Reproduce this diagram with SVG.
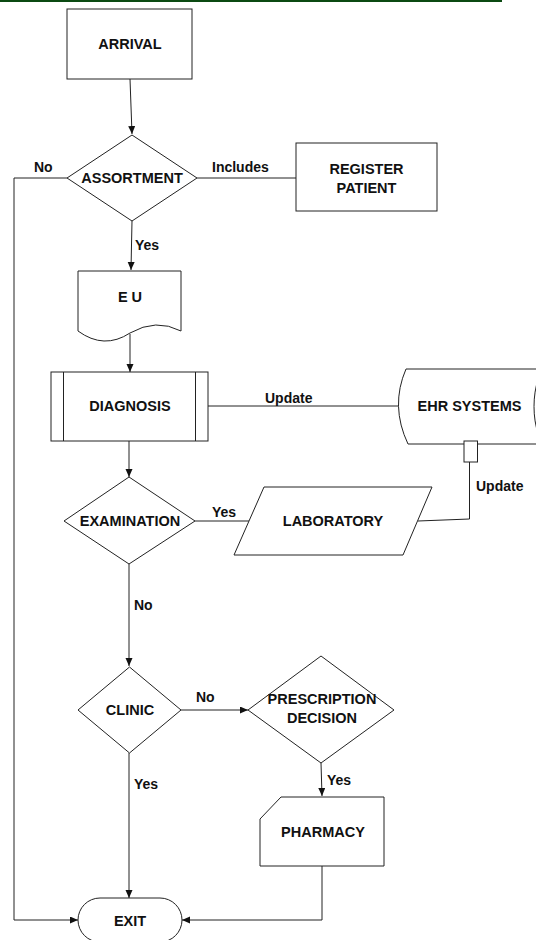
<svg xmlns="http://www.w3.org/2000/svg" width="536" height="940" viewBox="0 0 536 940">
  <style>
    .shape { fill: #ffffff; stroke: #222222; stroke-width: 1; }
    .line { fill: none; stroke: #222222; stroke-width: 1; }
    .node-text { font-family: "Liberation Sans", Arial, sans-serif; font-weight: bold; font-size: 14.5px; fill: #111111; text-anchor: middle; }
    .label { font-family: "Liberation Sans", Arial, sans-serif; font-weight: bold; font-size: 14px; fill: #111111; }
  </style>
  <defs>
    <marker id="arrow" markerUnits="userSpaceOnUse" markerWidth="9" markerHeight="8" refX="8" refY="3.5" orient="auto">
      <path d="M0,0 L8,3.5 L0,7 z" fill="#111111"/>
    </marker>
  </defs>

  <rect width="536" height="940" fill="#ffffff"/>
  <!-- header rule -->
  <rect x="0" y="0" width="502" height="2" fill="#0b4a12"/>

  <!-- connectors -->
  <g id="connectors">
    <path class="line" d="M130,79 L132,134" marker-end="url(#arrow)"/>
    <path class="line" d="M132,221 L131,270" marker-end="url(#arrow)"/>
    <path class="line" d="M130,334 L130,372" marker-end="url(#arrow)"/>
    <path class="line" d="M129,441 L129,477" marker-end="url(#arrow)"/>
    <path class="line" d="M129,564 L129,666" marker-end="url(#arrow)"/>
    <path class="line" d="M129,753 L129,898" marker-end="url(#arrow)"/>
    <path class="line" d="M181,710 L248,710" marker-end="url(#arrow)"/>
    <path class="line" d="M321,763 L322,796" marker-end="url(#arrow)"/>
    <path class="line" d="M322,866 L322,920 L182,920" marker-end="url(#arrow)"/>
    <path class="line" d="M67,178 L14,178 L14,920 L78,920" marker-end="url(#arrow)"/>
    <path class="line" d="M197,178 L296,178"/>
    <path class="line" d="M208,406 L398,406"/>
    <path class="line" d="M195,521 L249,521"/>
    <path class="line" d="M418,521 L469.5,519 L469.5,462"/>

    <text class="label" x="34" y="172">No</text>
    <text class="label" x="212" y="172">Includes</text>
    <text class="label" x="135" y="250">Yes</text>
    <text class="label" x="265" y="403">Update</text>
    <text class="label" x="476" y="491">Update</text>
    <text class="label" x="212" y="517">Yes</text>
    <text class="label" x="134" y="610">No</text>
    <text class="label" x="196" y="702">No</text>
    <text class="label" x="327" y="785">Yes</text>
    <text class="label" x="134" y="789">Yes</text>
  </g>

  <g id="arrival">
    <rect class="shape" x="67" y="9" width="125" height="70"/>
    <text class="node-text" x="130" y="49">ARRIVAL</text>
  </g>

  <g id="assortment">
    <polygon class="shape" points="132,135 197,178 132,221 67,178"/>
    <text class="node-text" x="132" y="183">ASSORTMENT</text>
  </g>

  <g id="register-patient">
    <rect class="shape" x="296" y="143" width="141" height="68"/>
    <text class="node-text" x="366.5" y="174">REGISTER</text>
    <text class="node-text" x="366.5" y="193">PATIENT</text>
  </g>

  <g id="eu">
    <path class="shape" d="M78,271 L181,271 L181,331 Q156,318 130,333 Q104,350 78,331 Z"/>
    <text class="node-text" x="130" y="302">E U</text>
  </g>

  <g id="diagnosis">
    <rect class="shape" x="51" y="372" width="157" height="69"/>
    <line class="line" x1="63.5" y1="372" x2="63.5" y2="441"/>
    <line class="line" x1="195.5" y1="372" x2="195.5" y2="441"/>
    <text class="node-text" x="130" y="411">DIAGNOSIS</text>
  </g>

  <g id="ehr-systems">
    <path class="shape" d="M560,369 L406,369 Q390,406 408,444 L560,444"/>
    <ellipse class="shape" cx="548" cy="406.5" rx="14" ry="37.5"/>
    <rect class="shape" x="464" y="441" width="13.5" height="21"/>
    <text class="node-text" x="469.5" y="411">EHR SYSTEMS</text>
  </g>

  <g id="examination">
    <polygon class="shape" points="129,477 195,521 129,564 64,521"/>
    <text class="node-text" x="130" y="526">EXAMINATION</text>
  </g>

  <g id="laboratory">
    <polygon class="shape" points="264,487 432,487 403,555 234,555"/>
    <text class="node-text" x="333" y="526">LABORATORY</text>
  </g>

  <g id="clinic">
    <polygon class="shape" points="129.5,667 181,710 129.5,753 78,710"/>
    <text class="node-text" x="130" y="715">CLINIC</text>
  </g>

  <g id="prescription-decision">
    <polygon class="shape" points="321,656 394,710 321,763 248,710"/>
    <text class="node-text" x="322" y="704">PRESCRIPTION</text>
    <text class="node-text" x="322" y="723">DECISION</text>
  </g>

  <g id="pharmacy">
    <path class="shape" d="M281,797 L384,797 L384,866 L260,866 L260,819 Z"/>
    <text class="node-text" x="323" y="837">PHARMACY</text>
  </g>

  <g id="exit">
    <rect class="shape" x="78" y="898" width="104" height="44" rx="22" ry="22"/>
    <text class="node-text" x="130" y="926">EXIT</text>
  </g>
</svg>
